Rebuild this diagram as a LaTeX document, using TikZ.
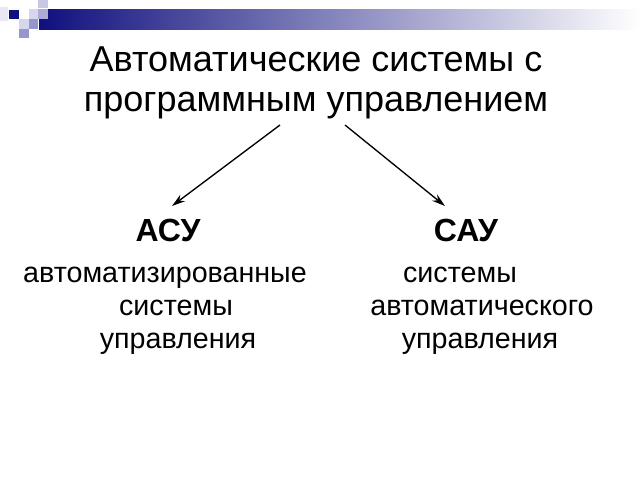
\documentclass[tikz,border=0pt]{standalone}
\usepackage{fontspec}
\setmainfont{Liberation Sans}
\usetikzlibrary{arrows.meta}
\definecolor{navy}{RGB}{16,16,126}
\definecolor{sqA}{RGB}{200,200,230}
\definecolor{sqB}{RGB}{232,232,244}
\definecolor{sqC}{RGB}{150,150,204}
\definecolor{sqD}{RGB}{214,214,236}
\tikzset{
  px/.style={x=0.75pt,y=-0.75pt},
  title/.style={font=\fontsize{27}{30.5}\selectfont, align=center, inner sep=0pt},
  abbr/.style={font=\fontsize{24}{28}\selectfont\bfseries, inner sep=0pt, anchor=base},
  body/.style={font=\fontsize{21.5}{24}\selectfont, inner sep=0pt, anchor=base},
  link/.style={-{Stealth[length=10pt,width=6pt]}, line width=1pt}
}
\begin{document}
\begin{tikzpicture}[px]
\useasboundingbox (0,0) rectangle (640,480);
\fill[white] (0,0) rectangle (640,480);
% decoration
\shade[left color=navy, right color=white] (39,9) rectangle (640,29);
\fill[sqA] (38,0) rectangle (48,8);
\fill[sqB] (0,7) rectangle (8,21);
\fill[navy] (9,10) rectangle (19,19);
\fill[sqD] (29,9) rectangle (38,19);
\fill[sqC!80!white] (38,9) rectangle (48,19);
\fill[sqD] (19,19) rectangle (29,29);
\fill[sqC] (29,19) rectangle (38,29);
\fill[sqC] (19,29) rectangle (29,38);
% title
\node[title] (t) at (316,83) {Автоматические системы с\\программным управлением};
\coordinate (tl) at (280,125);
\coordinate (tr) at (345,125);
\coordinate (al) at (172,206);
\coordinate (ar) at (445,206);
% headings
\node[abbr] (asu) at (168,241) {АСУ};
\node[abbr] (sau) at (466,241) {САУ};
\node[body] (a1) at (165,282) {автоматизированные};
\node[body] (a2) at (176,315) {системы};
\node[body] (a3) at (178,348) {управления};
\node[body] (s1) at (460,282) {системы};
\node[body] (s2) at (482,315) {автоматического};
\node[body] (s3) at (480,348) {управления};
\draw[link] (tl) -- (al);
\draw[link] (tr) -- (ar);
\end{tikzpicture}
\end{document}
